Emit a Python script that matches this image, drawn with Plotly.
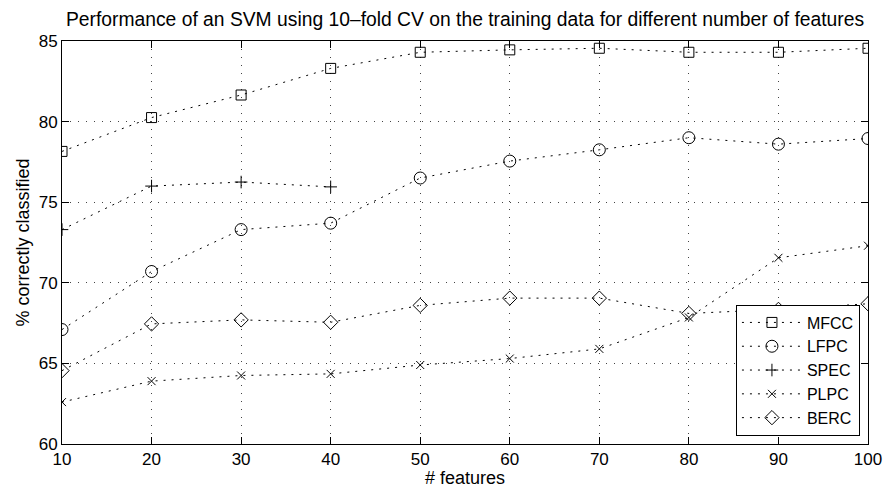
import plotly.graph_objects as go

features = [10, 20, 30, 40, 50, 60, 70, 80, 90, 100]
spec_features = [10, 20, 30, 40]

mfcc = [78.15, 80.25, 81.65, 83.3, 84.3, 84.45, 84.55, 84.3, 84.3, 84.55]
lfpc = [67.1, 70.7, 73.3, 73.7, 76.5, 77.55, 78.25, 79.0, 78.6, 78.95]
spec = [73.3, 76.0, 76.25, 75.95]
plpc = [62.6, 63.9, 64.25, 64.35, 64.9, 65.3, 65.9, 67.85, 71.55, 72.3]
berc = [64.55, 67.45, 67.7, 67.55, 68.6, 69.05, 69.05, 68.1, 68.35, 68.7]

series = [
    ("MFCC", features, mfcc, "square-open", 10),
    ("LFPC", features, lfpc, "circle-open", 12),
    ("SPEC", spec_features, spec, "cross-thin-open", 9),
    ("PLPC", features, plpc, "x-thin-open", 8),
    ("BERC", features, berc, "diamond-open", 11),
]

FONT = "Liberation Sans, Arial, Helvetica, sans-serif"

fig = go.Figure()
for name, xs, ys, sym, sz in series:
    fig.add_trace(go.Scatter(
        x=xs, y=ys, name=name, mode="lines+markers",
        line=dict(color="black", width=1, dash="2px,6px"),
        marker=dict(symbol=sym, size=sz, color="black",
                    line=dict(color="black", width=1)),
    ))

axis_common = dict(
    showline=True, linecolor="black", linewidth=1, mirror="ticks",
    ticks="inside", ticklen=7, tickcolor="black", tickwidth=1,
    showgrid=True, gridcolor="#444444", gridwidth=1, griddash="1px,7px",
    zeroline=False, automargin=False,
    tickfont=dict(family=FONT, size=17, color="black"),
)

fig.update_layout(
    width=884, height=488,
    margin=dict(l=62, r=16, t=41, b=44),
    paper_bgcolor="white", plot_bgcolor="white",
    font=dict(family=FONT, color="black", size=17),
    title=dict(text="Performance of an SVM using 10\u2013fold CV on the training data for different number of features",
               xref="paper", x=0.5, xanchor="center", y=0.96, yanchor="middle",
               font=dict(family=FONT, size=19.3, color="black")),
    xaxis=dict(range=[10, 100], tickvals=features,
               title=dict(text="# features", font=dict(family=FONT, size=18), standoff=0),
               **axis_common),
    yaxis=dict(range=[60, 85], tickvals=[60, 65, 70, 75, 80, 85],
               title=dict(text="% correctly classified", font=dict(family=FONT, size=18), standoff=4),
               **axis_common),
    legend=dict(x=0.99, xanchor="right", y=0.021, yanchor="bottom",
                bgcolor="white", bordercolor="black", borderwidth=1,
                font=dict(family=FONT, size=16, color="black"),
                tracegroupgap=0, itemwidth=60),
    showlegend=True,
)

fig.write_html("out.html")
